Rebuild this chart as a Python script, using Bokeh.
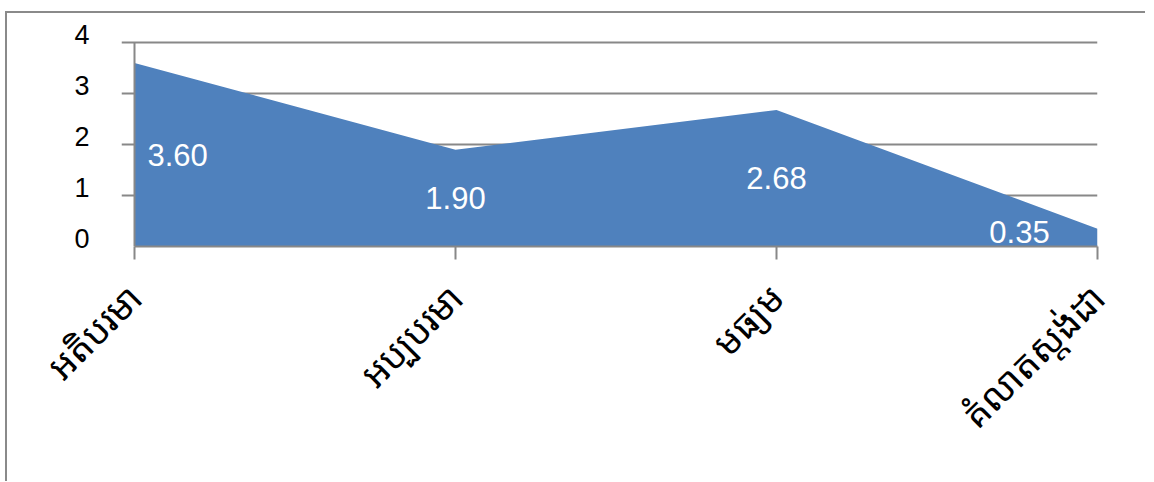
from bokeh.plotting import figure
from bokeh.models import ColumnDataSource, FixedTicker, Range1d, LinearAxis
from bokeh.core.properties import value
from bokeh.embed import file_html
from bokeh.resources import INLINE
import math

categories = ["អតិបរមា", "អប្បបរមា", "មធ្យម", "គំលាតស្តង់ដា"]
values = [3.60, 1.90, 2.68, 0.35]
y_ticks = [0, 1, 2, 3, 4]

xs = list(range(len(categories)))
x_max = len(categories) - 1
y_max = y_ticks[-1]
lift = 0.16     # y labels sit slightly above their ticks, as in the reference
tick_pad = 0.0405  # room left of the y axis for the outward tick marks

grid_col = "#888888"

p = figure(width=1140, height=470, output_backend="svg", toolbar_location=None,
           x_range=Range1d(-tick_pad, x_max), y_range=Range1d(0, y_max + lift),
           y_axis_location=None,
           min_border_left=114, min_border_right=50, min_border_top=21, min_border_bottom=237)
p.styles = {"margin-top": "11px", "margin-left": "5px",
            "border-left": "2px solid #8a8a8a", "border-top": "2px solid #8a8a8a"}
p.outline_line_color = None
p.background_fill_color = "white"
p.extra_y_ranges = {"lab": Range1d(-lift, y_max)}

# horizontal grid (also forms the outward y ticks)
p.xgrid.visible = False
p.ygrid.ticker = FixedTicker(ticks=y_ticks)
p.ygrid.grid_line_color = grid_col
p.ygrid.grid_line_width = 2
p.ygrid.level = "underlay"

src = ColumnDataSource(dict(x=xs, y=values, zero=[0] * len(xs)))
p.varea(x="x", y1="zero", y2="y", source=src, fill_color="#4F81BD")

# y axis line
p.segment(x0=[0], y0=[0], x1=[0], y1=[y_max], line_color=grid_col, line_width=2)

# data labels
lab_y = [v / 2 for v in values]
aligns = ["left", "center", "center", "center"]
xoffs = [13, 0, 0, -78]
yoffs = [0, 0, 0, -6]
lsrc = ColumnDataSource(dict(x=xs, y=lab_y, t=["%.2f" % v for v in values],
                             a=aligns, xo=xoffs, yo=yoffs))
p.text(x="x", y="y", text="t", source=lsrc, text_align="a", x_offset="xo", y_offset="yo",
       text_baseline="middle", text_color="white", text_font_size="31px",
       text_font=value("Liberation Sans"))

lab_axis = LinearAxis(y_range_name="lab", ticker=FixedTicker(ticks=y_ticks))
lab_axis.axis_line_color = None
lab_axis.major_tick_line_color = None
lab_axis.minor_tick_line_color = None
lab_axis.major_tick_out = 0
lab_axis.major_tick_in = 0
lab_axis.major_label_standoff = 32
lab_axis.major_label_text_font = "Liberation Sans"
lab_axis.major_label_text_font_size = "27px"
lab_axis.major_label_text_color = "black"
p.add_layout(lab_axis, "left")

p.xaxis.ticker = FixedTicker(ticks=xs)
p.xaxis.bounds = (0, x_max)
p.xaxis.major_label_overrides = {i: c for i, c in enumerate(categories)}
p.xaxis.major_label_orientation = math.pi / 4
p.xaxis.axis_line_color = grid_col
p.xaxis.axis_line_width = 2
p.xaxis.major_tick_line_color = grid_col
p.xaxis.major_tick_line_width = 2
p.xaxis.major_tick_out = 13
p.xaxis.major_tick_in = 0
p.xaxis.minor_tick_line_color = None
p.xaxis.major_label_standoff = 31
p.xaxis.major_label_text_font = "Noto Sans Khmer, Khmer OS, Noto Sans, DejaVu Sans"
p.xaxis.major_label_text_font_size = "37px"
p.xaxis.major_label_text_color = "black"

open("out.html", "w").write(file_html(p, INLINE))
